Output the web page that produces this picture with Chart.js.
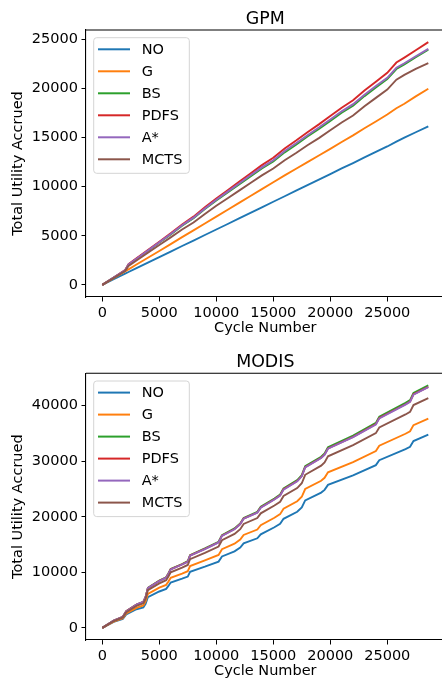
<!DOCTYPE html>
<html><head><meta charset="utf-8">
<script src="https://cdn.jsdelivr.net/npm/chart.js@4"></script>
<style>
html,body{margin:0;padding:0;overflow:hidden;background:#fff;width:442px;height:681px}
#c1{position:absolute;left:0;top:0}
#c2{position:absolute;left:0;top:340px}
</style></head><body>
<canvas id="c1" width="450" height="340"></canvas>
<canvas id="c2" width="450" height="341"></canvas>
<script>
// ---------- DATA ----------
const seriesNames = ['NO', 'G', 'BS', 'PDFS', 'A*', 'MCTS'];
const seriesColors = ['#1f77b4', '#ff7f0e', '#2ca02c', '#d62728', '#9467bd', '#8c564b'];

const xTickValues = [0, 5000, 10000, 15000, 20000, 25000];
const gpmYTickValues = [0, 5000, 10000, 15000, 20000, 25000];
const modisYTickValues = [0, 10000, 20000, 30000, 40000];

// GPM
const gpmCycles = [0, 1000, 2000, 2300, 3000, 4000, 5000, 6000, 7000, 8000, 9000, 10000, 11000, 12000, 13000, 14000, 15000, 16000, 17000, 18000, 19000, 20000, 21000, 22000, 23000, 24000, 25000, 25800, 26500, 27500, 28600];
const gpmNO   = [0, 570, 1140, 1310, 1710, 2270, 2830, 3390, 3960, 4510, 5080, 5640, 6200, 6770, 7330, 7900, 8470, 9030, 9600, 10160, 10720, 11290, 11860, 12410, 12980, 13540, 14100, 14600, 15000, 15550, 16158];
const gpmG    = [0, 680, 1380, 1580, 2070, 2760, 3450, 4150, 4860, 5550, 6250, 6950, 7650, 8350, 9050, 9750, 10450, 11150, 11830, 12500, 13180, 13850, 14550, 15230, 15950, 16650, 17350, 18000, 18450, 19200, 19986];
const gpmBS   = [0, 740, 1470, 2060, 2650, 3480, 4310, 5140, 6020, 6790, 7720, 8590, 9410, 10230, 11050, 11860, 12580, 13500, 14290, 15110, 15880, 16700, 17530, 18260, 19230, 20100, 20960, 21990, 22470, 23190, 23960];
const gpmPDFS = [0, 750, 1500, 2100, 2700, 3550, 4400, 5250, 6150, 6950, 7900, 8800, 9650, 10500, 11350, 12200, 12950, 13900, 14700, 15550, 16350, 17200, 18050, 18800, 19800, 20700, 21600, 22650, 23150, 23900, 24730];
const gpmAstar= [0, 750, 1480, 2080, 2670, 3510, 4350, 5190, 6070, 6850, 7790, 8670, 9500, 10330, 11160, 11970, 12700, 13630, 14420, 15250, 16030, 16850, 17680, 18410, 19380, 20250, 21100, 22120, 22580, 23290, 24050];
const gpmMCTS = [0, 700, 1400, 1930, 2480, 3270, 4060, 4840, 5640, 6360, 7230, 8060, 8820, 9600, 10380, 11150, 11850, 12700, 13440, 14220, 14950, 15750, 16550, 17250, 18200, 19050, 19900, 20900, 21400, 22000, 22595];

// MODIS
const modisCycles = [0, 1000, 1800, 2100, 3000, 3600, 3800, 4000, 5000, 5600, 5800, 6000, 7000, 7500, 7700, 9000, 10200, 10500, 11600, 12100, 12400, 13600, 13900, 15100, 15600, 15900, 17100, 17500, 17800, 19200, 19500, 19800, 22000, 24000, 24300, 26600, 27000, 27300, 28600];
const modisNO   = [0, 1070, 1620, 2430, 3360, 3690, 4340, 5540, 6550, 7010, 7550, 8160, 8860, 9240, 10090, 11010, 11930, 12860, 13780, 14460, 15220, 16130, 16850, 18110, 18720, 19630, 20910, 21670, 22960, 24360, 24840, 25740, 27440, 29300, 30190, 32200, 32600, 33630, 34790];
const modisG    = [0, 1130, 1730, 2590, 3610, 4040, 4790, 6120, 7230, 7740, 8330, 9010, 9780, 10200, 11140, 12150, 13140, 14160, 15150, 15890, 16730, 17700, 18480, 19830, 20470, 21440, 22790, 23600, 25000, 26490, 27010, 28000, 29830, 31840, 32800, 34950, 35390, 36500, 37670];
const modisBS   = [0, 1300, 2000, 3000, 4200, 4700, 5600, 7200, 8500, 9100, 9800, 10600, 11500, 12000, 13100, 14300, 15500, 16700, 17900, 18800, 19800, 20900, 21800, 23300, 24000, 25100, 26600, 27500, 29100, 30800, 31400, 32500, 34600, 36900, 38000, 40500, 41000, 42300, 43650];
const modisPDFS = [0, 1300, 1990, 2990, 4180, 4680, 5570, 7160, 8450, 9050, 9740, 10540, 11430, 11930, 13020, 14210, 15400, 16600, 17790, 18690, 19680, 20770, 21670, 23160, 23860, 24950, 26440, 27340, 28930, 30620, 31220, 32310, 34400, 36680, 37780, 40260, 40750, 42050, 43390];
const modisAstar= [0, 1300, 1990, 2980, 4170, 4670, 5560, 7150, 8440, 9030, 9720, 10520, 11410, 11900, 13000, 14190, 15380, 16570, 17760, 18660, 19650, 20740, 21630, 23120, 23810, 24900, 26390, 27290, 28880, 30570, 31160, 32250, 34340, 36620, 37720, 40200, 40700, 41990, 43330];
const modisMCTS = [0, 1230, 1890, 2830, 3960, 4430, 5280, 6780, 8010, 8580, 9240, 10000, 10850, 11330, 12380, 13510, 14650, 15780, 16920, 17770, 18710, 19770, 20620, 22040, 22700, 23740, 25170, 26040, 27560, 29200, 29800, 30880, 32900, 35060, 36080, 38420, 38890, 40110, 41380];

// ---------- CHART ----------
const FONT = 'DejaVu Sans';
const TICK_SIZE = 14.5;

function padRange(values) {
  const mn = Math.min(...values), mx = Math.max(...values);
  const m = (mx - mn) * 0.05;
  return [mn - m, mx + m];
}

const decor = {
  id: 'decor',
  afterDraw(chart, args, opts) {
    const { ctx, chartArea: a } = chart;
    ctx.save();
    // top & right spines
    ctx.strokeStyle = '#000';
    ctx.lineWidth = 1.1;
    ctx.beginPath();
    ctx.moveTo(a.left, a.top);
    ctx.lineTo(a.right, a.top);
    ctx.lineTo(a.right, a.bottom);
    ctx.stroke();
    // title
    ctx.fillStyle = '#000';
    ctx.font = '17.4px "' + FONT + '"';
    ctx.textAlign = 'center';
    ctx.textBaseline = 'alphabetic';
    ctx.fillText(opts.title, (a.left + a.right) / 2, opts.titleY);
    // legend
    const x0 = a.left + 7.7, y0 = a.top + 7.7, w = 95.6, h = 135.6, r = 3;
    ctx.beginPath();
    ctx.moveTo(x0 + r, y0);
    ctx.lineTo(x0 + w - r, y0);
    ctx.arcTo(x0 + w, y0, x0 + w, y0 + r, r);
    ctx.lineTo(x0 + w, y0 + h - r);
    ctx.arcTo(x0 + w, y0 + h, x0 + w - r, y0 + h, r);
    ctx.lineTo(x0 + r, y0 + h);
    ctx.arcTo(x0, y0 + h, x0, y0 + h - r, r);
    ctx.lineTo(x0, y0 + r);
    ctx.arcTo(x0, y0, x0 + r, y0, r);
    ctx.closePath();
    ctx.fillStyle = 'rgba(255,255,255,0.8)';
    ctx.fill();
    ctx.strokeStyle = '#d4d4d4';
    ctx.lineWidth = 1;
    ctx.stroke();
    ctx.font = TICK_SIZE + 'px "' + FONT + '"';
    ctx.textAlign = 'left';
    ctx.textBaseline = 'middle';
    chart.data.datasets.forEach((ds, i) => {
      const cy = y0 + 11.6 + i * 22;
      ctx.strokeStyle = ds.borderColor;
      ctx.lineWidth = 2;
      ctx.beginPath();
      ctx.moveTo(x0 + 4.3, cy);
      ctx.lineTo(x0 + 36.3, cy);
      ctx.stroke();
      ctx.fillStyle = '#000';
      ctx.fillText(ds.label, x0 + 48, cy + 0.5);
    });
    ctx.restore();
  }
};

function makeChart(id, title, titleY, cycles, seriesList, yTicks, padTop, xHeight, xTitlePad) {
  const allY = [].concat(...seriesList);
  const [ymin, ymax] = padRange(allY);
  const [xmin, xmax] = padRange(cycles);
  const datasets = seriesList.map((vals, i) => ({
    label: seriesNames[i],
    data: vals.map((v, j) => ({ x: cycles[j], y: v })),
    borderColor: seriesColors[i],
    backgroundColor: seriesColors[i],
    borderWidth: 1.9,
    pointRadius: 0,
    fill: false,
    tension: 0,
    order: -i
  }));
  const font = { family: FONT, size: TICK_SIZE };
  return new Chart(document.getElementById(id), {
    type: 'line',
    data: { datasets },
    plugins: [decor],
    options: {
      responsive: false,
      animation: false,
      devicePixelRatio: window.devicePixelRatio || 1,
      layout: { padding: { top: padTop, right: 450 - 444.6, left: 0, bottom: 0 } },
      plugins: {
        legend: { display: false },
        tooltip: { enabled: false },
        title: { display: false },
        decor: { title, titleY }
      },
      scales: {
        x: {
          type: 'linear',
          min: xmin, max: xmax,
          afterBuildTicks: s => { s.ticks = xTickValues.map(v => ({ value: v })); },
          afterFit: s => { s.height = xHeight; },
          ticks: { font, color: '#000', padding: 3.5, maxRotation: 0, autoSkip: false, callback: v => String(v) },
          grid: { display: true, drawOnChartArea: false, drawTicks: true, tickLength: 4.5, color: '#000', lineWidth: 1 },
          border: { display: true, color: '#000', width: 1.1 },
          title: { display: true, text: 'Cycle Number', font, color: '#000', padding: { top: 0, bottom: xTitlePad } }
        },
        y: {
          type: 'linear',
          min: ymin, max: ymax,
          afterBuildTicks: s => { s.ticks = yTicks.map(v => ({ value: v })); },
          afterFit: s => { s.width = 86; },
          ticks: { font, color: '#000', padding: 3.5, autoSkip: false, callback: v => String(v) },
          grid: { display: true, drawOnChartArea: false, drawTicks: true, tickLength: 4.5, color: '#000', lineWidth: 1 },
          border: { display: true, color: '#000', width: 1.1 },
          title: { display: true, text: 'Total Utility Accrued', font, color: '#000', padding: { top: 9.6, bottom: 0 } }
        }
      }
    }
  });
}

makeChart('c1', 'GPM', 23.5, gpmCycles,
  [gpmNO, gpmG, gpmBS, gpmPDFS, gpmAstar, gpmMCTS], gpmYTickValues, 30, 43, 3);
makeChart('c2', 'MODIS', 26.7, modisCycles,
  [modisNO, modisG, modisBS, modisPDFS, modisAstar, modisMCTS], modisYTickValues, 33.3, 41, 1.3);
</script>
</body></html>
